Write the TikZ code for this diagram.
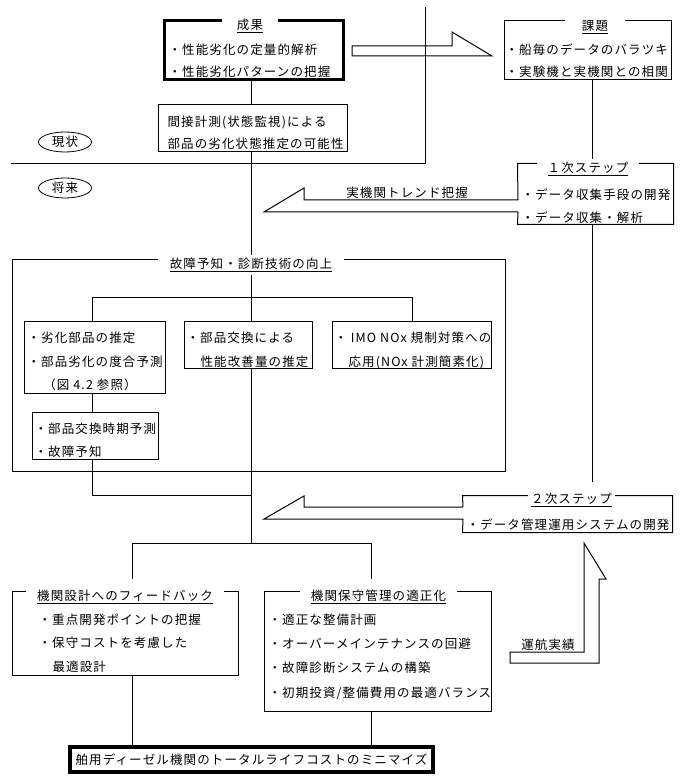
\documentclass[tikz,border=0pt]{standalone}
\usepackage{fontspec}
\setmainfont{Noto Sans CJK JP}[LetterSpace=9]
\usetikzlibrary{shapes.geometric}
\begin{document}
\begin{tikzpicture}[x=1pt,y=-1pt,line width=1pt,
  every node/.style={font=\fontsize{12.5pt}{15pt}\selectfont,inner sep=0pt},
  frame/.style={draw,line width=1pt},
  thick frame/.style={draw,line width=3pt},
  hollow/.style={draw=none},
  ttl/.style={fill=white,inner ysep=3pt},
  txt/.style={anchor=west},
  oval/.style={draw,ellipse,line width=0.8pt,minimum width=53pt,minimum height=20pt}]
\useasboundingbox (0,0) rectangle (681,783);

% x positions of vertical connectors
\coordinate (xA) at (92,0);
\coordinate (xT) at (251,0);
\coordinate (xC) at (412,0);
\coordinate (xR) at (592,0);
\coordinate (xL2) at (132,0);
\coordinate (xR2) at (371,0);
\coordinate (j1) at (251,297);
\coordinate (j2) at (251,495);
\coordinate (j3) at (251,543);

% boxes
\node[thick frame,minimum width=179pt,minimum height=59pt] (seika) at (253.5,50.5) {};
\node[frame,minimum width=189pt,minimum height=47pt] (kansetsu) at (252.5,128.5) {};
\node[frame,minimum width=167pt,minimum height=59pt] (kadai) at (587.5,50.5) {};
\node[hollow,minimum width=155pt,minimum height=60pt] (step1) at (595.5,194) {};
\node[frame,minimum width=493pt,minimum height=211pt] (kosho) at (258.5,365.5) {};
\node[frame,minimum width=141pt,minimum height=72pt] (b1) at (94.5,357) {};
\node[frame,minimum width=128pt,minimum height=47pt] (b2) at (248,344.5) {};
\node[frame,minimum width=159pt,minimum height=47pt] (b3) at (411.5,344.5) {};
\node[frame,minimum width=126pt,minimum height=47pt] (b4) at (95,435.5) {};
\node[hollow,minimum width=209pt,minimum height=36pt] (step2) at (567.5,514) {};
\node[frame,minimum width=226pt,minimum height=84pt] (bl) at (125,633) {};
\node[frame,minimum width=227pt,minimum height=120pt] (br) at (377.5,651) {};
\node[draw,line width=4pt,minimum width=363pt,minimum height=25pt] (goal) at (251.5,759.5)
  {\raisebox{-4pt}{舶用ディーゼル機関のトータルライフコストのミニマイズ}};

% present / future divider
\coordinate (v0) at (425,7);
\coordinate (v1) at (425,164);
\coordinate (h0) at (11,164);
\draw (v0) -- (v1) -- (h0);
\node[oval] (genjo) at (65,142) {現状};
\node[oval] (shorai) at (65,188) {将来};

% step boxes with broken left edge (arrow shafts enter)
\coordinate (a1u) at (518,200);
\coordinate (a1l) at (518,212);
\draw (a1u) -- (step1.north west) -- (step1.north east) -- (step1.south east) -- (step1.south west) -- (a1l);
\coordinate (a2u) at (463,507);
\coordinate (a2l) at (463,519);
\draw (a2u) -- (step2.north west) -- (step2.north east) -- (step2.south east) -- (step2.south west) -- (a2l);

% block arrows
\draw (352,46) -- (452,46) -- (452,32) -- (492,56) -- (352,56) -- cycle;
\draw (a1u) -- (304,200) -- (304,188) -- (264,212) -- (a1l);
\draw (a2u) -- (304,507) -- (304,496) -- (264,519) -- (a2l);
\draw (599,663) -- (510,663) -- (510,652) -- (584,652) -- (584,543) -- (606,579) -- (599,579) -- cycle;

% connectors
\draw (seika.south -| xT) -- (kansetsu.north -| xT);
\draw (kansetsu.south -| xT) -- (b2.north -| xT);
\draw (xA |- b1.north) -- (xA |- j1) -- (xC |- j1) -- (xC |- b3.north);
\draw (b1.south -| xA) -- (b4.north -| xA);
\draw (b4.south -| xA) -- (xA |- j2) -- (j2);
\draw (b2.south -| xT) -- (j3);
\draw (xL2 |- j3) -- (xR2 |- j3);
\draw[shorten >=12pt] (xL2 |- j3) -- (xL2 |- bl.north);
\draw[shorten >=12pt] (xR2 |- j3) -- (xR2 |- br.north);
\draw (bl.south -| xL2) -- (goal.north -| xL2);
\draw (br.south -| xR2) -- (goal.north -| xR2);
\draw (kadai.south -| xR) -- (step1.north -| xR);
\draw[shorten >=14pt] (step1.south -| xR) -- (step2.north -| xR);

% titles (cut the top edge)
\node[ttl,minimum width=56pt] (tseika) at (250,26) {\underline{成果}};
\node[ttl,minimum width=60pt] (tkadai) at (595,27) {\underline{課題}};
\node[ttl,minimum width=102pt] (tstep1) at (588,169) {\underline{１次ステップ}};
\node[ttl,minimum width=87pt] (tstep2) at (571.5,500) {\underline{２次ステップ}};
\node[ttl,minimum width=186pt] (tkosho) at (251,265) {\underline{故障予知・診断技術の向上}};
\node[ttl,minimum width=198pt] (tbl) at (125,597) {\underline{機関設計へのフィードバック}};
\node[ttl,minimum width=157pt] (tbr) at (378.5,597) {\underline{機関保守管理の適正化}};

% texts
\node[txt] (s1) at (168,50) {・性能劣化の定量的解析};
\node[txt] (s2) at (168,72) {・性能劣化パターンの把握};
\node[txt] (k1) at (167,122) {間接計測(状態監視)による};
\node[txt] (k2) at (167,144) {部品の劣化状態推定の可能性};
\node[txt] (d1) at (505,50) {・船毎のデータのバラツキ};
\node[txt] (d2) at (505,72) {・実験機と実機関との相関};
\node[txt] (p1) at (521,195) {・データ収集手段の開発};
\node[txt] (p2) at (521,218) {・データ収集・解析};
\node (trend) at (407,193) {実機関トレンド把握};
\node[txt] (b1a) at (27,338) {・劣化部品の推定};
\node[txt] (b1b) at (27,362) {・部品劣化の度合予測};
\node (b1c) at (90,385) {（図 4.2 参照）};
\node[txt] (b2a) at (186,338) {・部品交換による};
\node[txt] (b2b) at (200,362) {性能改善量の推定};
\node[txt] (b3a) at (334,338) {・ IMO NOx 規制対策への};
\node[txt] (b3b) at (348,362) {応用(NOx 計測簡素化)};
\node[txt] (b4a) at (34,429) {・部品交換時期予測};
\node[txt] (b4b) at (34,452) {・故障予知};
\node[txt] (q1) at (466,525) {・データ管理運用システムの開発};
\node[txt] (l1) at (38,620) {・重点開発ポイントの把握};
\node[txt] (l2) at (38,643) {・保守コストを考慮した};
\node[txt] (l3) at (52,667) {最適設計};
\node[txt] (r1) at (268,620) {・適正な整備計画};
\node[txt] (r2) at (268,644) {・オーバーメインテナンスの回避};
\node[txt] (r3) at (268,668) {・故障診断システムの構築};
\node[txt] (r4) at (268,693) {・初期投資/整備費用の最適バランス};
\node (unko) at (548,645) {運航実績};
\end{tikzpicture}
\end{document}
